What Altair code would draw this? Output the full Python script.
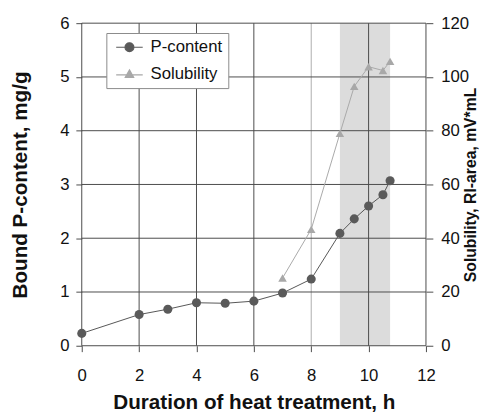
import altair as alt
import pandas as pd

# data
p_hours = [0, 2, 3, 4, 5, 6, 7, 8, 9, 9.5, 10, 10.5, 10.75]
p_vals = [0.23, 0.58, 0.68, 0.80, 0.79, 0.83, 0.98, 1.24, 2.09, 2.36, 2.60, 2.81, 3.07]
s_hours = [7, 8, 9, 9.5, 10, 10.5, 10.75]
s_vals = [25.2, 43.3, 79.0, 96.5, 103.8, 102.4, 105.8]
shade_range = [9, 10.75]
x_ticks = [0, 2, 4, 6, 8, 10, 12]
y_ticks = [0, 1, 2, 3, 4, 5, 6]
y2_ticks = [0, 20, 40, 60, 80, 100, 120]
series = ["P-content", "Solubility"]
series_colors = ["#5a5a5a", "#a8a8a8"]

p_df = pd.DataFrame({"hours": p_hours, "value": p_vals, "series": series[0]})
s_df = pd.DataFrame({"hours": s_hours, "value": s_vals, "series": series[1]})
shade_df = pd.DataFrame({"hours": [shade_range[0]], "hours2": [shade_range[1]]})
vgrid_df = pd.DataFrame({"hours": x_ticks})
hgrid_df = pd.DataFrame({"value": y_ticks})
legend_df = pd.DataFrame({"hours": [0.0, 0.0], "value": [0.0, 0.0], "series": series})

XT = "Duration of heat treatment, h"
xscale = alt.Scale(domain=[0, 12], nice=False)
yscale = alt.Scale(domain=[0, 6], nice=False)
y2scale = alt.Scale(domain=[0, 120], nice=False)

font = "Liberation Sans"
GRID = "#4a4a4a"
TXT = "#111111"

x_axis = alt.Axis(values=x_ticks, grid=False, domain=False, tickColor=GRID, tickSize=6,
                  labelFlush=False, labelFontSize=17, labelFont=font, labelColor=TXT,
                  labelPadding=16,
                  title=XT, titleFontSize=21, titleFont=font, titleFontWeight="bold",
                  titleColor=TXT, titlePadding=9)
y_axis = alt.Axis(values=y_ticks, grid=False, domain=False, tickColor=GRID, tickSize=6,
                  labelFlush=False, labelFontSize=17, labelFont=font, labelColor=TXT,
                  labelPadding=7,
                  title="Bound P-content, mg/g", titleFontSize=21, titleFont=font,
                  titleFontWeight="bold", titleColor=TXT, titlePadding=30)
y2_axis = alt.Axis(values=y2_ticks, grid=False, domain=False, tickColor=GRID, tickSize=7,
                   orient="right", labelFlush=False,
                   labelFontSize=17, labelFont=font, labelColor=TXT, labelPadding=8,
                   title="Solubility, RI-area, mV*mL", titleFontSize=16, titleFont=font,
                   titleFontWeight="bold", titleColor=TXT, titlePadding=-6,
                   titleAngle=270, titleBaseline="top")

legend = alt.Legend(
    title=None, orient="none", legendX=25, legendY=10,
    fillColor="white", strokeColor="#8a8a8a", padding=6,
    labelFontSize=17, labelFont=font, labelColor=TXT,
    symbolSize=81, symbolOffset=9, labelOffset=13, rowPadding=9,
    symbolStrokeWidth=1.2, symbolOpacity=1,
)
col_scale = alt.Scale(domain=series, range=series_colors)
legend_paths = ["M-3,0L3,0M-1,0A1,1,0,1,0,1,0A1,1,0,1,0,-1,0Z",
                "M-3,0.25L3,0.25M0,-0.9L0.95,0.8L-0.95,0.8Z"]

X = alt.X("hours:Q", scale=xscale, axis=x_axis, title=XT)
Y = alt.Y("value:Q", scale=yscale, axis=y_axis)
Y2 = alt.Y("value:Q", scale=y2scale, axis=y2_axis)

shade = alt.Chart(shade_df).mark_rect(color="#dcdcdc").encode(x=X, x2="hours2:Q")
vgrid = alt.Chart(vgrid_df).mark_rule(strokeWidth=1).encode(
    x=X,
    color=alt.condition("datum.hours === 8", alt.value("#acacac"), alt.value(GRID)))
hgrid = alt.Chart(hgrid_df).mark_rule(strokeWidth=1, color=GRID).encode(y=Y)
p_line = alt.Chart(p_df).mark_line(color="#555555", strokeWidth=1).encode(x=X, y=Y)
p_pts = alt.Chart(p_df).mark_point(filled=True, size=85, opacity=1, shape="circle",
                                   color=series_colors[0]).encode(x=X, y=Y)
legend_layer = alt.Chart(legend_df).transform_filter("false").mark_point(
    filled=True, opacity=1).encode(
    x=X, y=Y,
    fill=alt.Fill("series:N", scale=col_scale, legend=legend),
    stroke=alt.Stroke("series:N", scale=col_scale, legend=legend),
    shape=alt.Shape("series:N", scale=alt.Scale(domain=series, range=legend_paths), legend=legend),
)

s_line = alt.Chart(s_df).mark_line(color="#a8a8a8", strokeWidth=1).encode(x=X, y=Y2)
s_pts = alt.Chart(s_df).mark_point(filled=True, size=75, opacity=1, shape="triangle-up",
                                   color=series_colors[1]).encode(x=X, y=Y2)

left = alt.layer(shade, vgrid, hgrid, p_line, p_pts, legend_layer)
right = alt.layer(s_line, s_pts)

chart = alt.layer(left, right).resolve_scale(y="independent").properties(
    width=350, height=328,
    autosize=alt.AutoSizeParams(type="none"),
    padding={"left": 75, "top": 12, "right": 58, "bottom": 68},
).configure_view(stroke=None)

chart.save("out.html", embed_options={"renderer": "svg", "actions": False})
